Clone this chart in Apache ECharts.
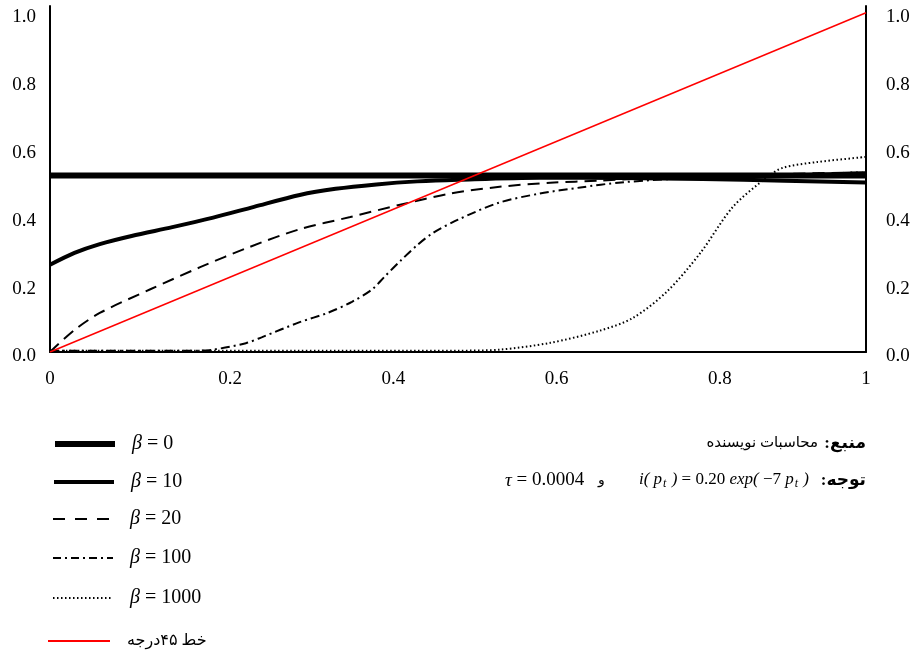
<!DOCTYPE html>
<html>
<head>
<meta charset="utf-8">
<script src="https://cdn.jsdelivr.net/npm/echarts@6/dist/echarts.min.js"></script>
<style>
  html, body { margin: 0; padding: 0; background: #fff; }
  #chart { width: 915px; height: 654px; }
</style>
</head>
<body>
<div id="chart"></div>
<script>
// axis ticks
const xTicks = [0, 0.2, 0.4, 0.6, 0.8, 1];
const yTicks = [0, 0.2, 0.4, 0.6, 0.8, 1.0];

// curves as [p, value]
const beta0 = [[0, 0.52], [1, 0.52]];
const beta10 = [
  [0, 0.257], [0.03, 0.292], [0.061, 0.318], [0.1, 0.342], [0.15, 0.368], [0.2, 0.396],
  [0.25, 0.428], [0.306, 0.463], [0.35, 0.481], [0.4, 0.494], [0.45, 0.503], [0.5, 0.508],
  [0.6, 0.514], [0.7, 0.513], [0.8, 0.51], [0.9, 0.505], [1, 0.5]
];
const beta20 = [
  [0, 0], [0.03, 0.065], [0.061, 0.115], [0.123, 0.185], [0.184, 0.25], [0.245, 0.31],
  [0.306, 0.362], [0.368, 0.398], [0.429, 0.434], [0.49, 0.467], [0.551, 0.487],
  [0.613, 0.499], [0.674, 0.505], [0.75, 0.515], [0.85, 0.522], [1, 0.53]
];
const beta100 = [
  [0, 0.004], [0.18, 0.004], [0.2, 0.007], [0.24, 0.026], [0.26, 0.044], [0.306, 0.088],
  [0.34, 0.115], [0.37, 0.148], [0.395, 0.185], [0.41, 0.222], [0.43, 0.27], [0.45, 0.315],
  [0.47, 0.352], [0.5, 0.39], [0.55, 0.44], [0.6, 0.467], [0.65, 0.485], [0.7, 0.5],
  [0.8, 0.515], [0.9, 0.523], [1, 0.53]
];
const beta1000 = [
  [0, 0.004], [0.3, 0.004], [0.5, 0.004], [0.551, 0.007], [0.613, 0.027], [0.674, 0.063],
  [0.714, 0.1], [0.756, 0.178], [0.797, 0.292], [0.837, 0.428], [0.879, 0.516],
  [0.898, 0.543], [0.94, 0.56], [1, 0.575]
];
const line45 = [[0, 0], [1, 1]];

const serif = "'Liberation Serif', 'Times New Roman', serif";
const fa = "'Liberation Serif', 'DejaVu Sans', serif";

function betaSeries(name, data, width, type) {
  return {
    name: name,
    type: 'line',
    data: data,
    symbol: 'none',
    smooth: 0.3,
    itemStyle: { color: '#000' },
    lineStyle: { color: '#000', width: width, type: type },
    z: 3
  };
}

function betaLegend(name, top, width, type) {
  return {
    data: [name],
    left: 52,
    top: top,
    padding: 0,
    selectedMode: false,
    itemWidth: 60,
    itemHeight: 20,
    itemStyle: { opacity: 0 },
    lineStyle: { width: width, type: type },
    formatter: function (n) {
      return '{b|β} = ' + n.split('=')[1].trim();
    },
    textStyle: {
      fontFamily: serif,
      fontSize: 20,
      color: '#000',
      padding: [0, 0, 0, 12],
      rich: { b: { fontFamily: serif, fontSize: 20, fontStyle: 'italic', color: '#000' } }
    }
  };
}

const chart = echarts.init(document.getElementById('chart'));

const yAxisBase = {
  type: 'value',
  min: 0,
  max: 1.02,
  interval: 0.2,
  axisLine: { show: true, lineStyle: { color: '#000', width: 2 } },
  axisTick: { show: false },
  splitLine: { show: false },
  axisLabel: {
    color: '#000',
    formatter: function (v) {
      const hit = yTicks.find(function (t) { return Math.abs(t - v) < 1e-9; });
      return hit === undefined ? '' : '{a|' + hit.toFixed(1) + '}';
    },
    rich: {
      a: { fontFamily: serif, fontSize: 19, color: '#000', padding: [9, 0, 0, 0] }
    }
  }
};

chart.setOption({
  animation: false,
  grid: { left: 50, right: 49, top: 6, bottom: 302, outerBoundsMode: 'none' },
  xAxis: {
    type: 'value',
    min: 0,
    max: 1,
    interval: 0.2,
    axisLine: { show: true, onZero: false, lineStyle: { color: '#000', width: 2 } },
    axisTick: { show: false },
    splitLine: { show: false },
    axisLabel: {
      margin: 18,
      color: '#000',
      fontFamily: serif,
      fontSize: 19,
      formatter: function (v) {
        const hit = xTicks.find(function (t) { return Math.abs(t - v) < 1e-9; });
        if (hit === undefined) return '';
        if (hit === 0 || hit === 1) return '{e|' + hit + '}';
        return '{m|' + hit.toFixed(1) + '}';
      },
      rich: {
        e: { fontFamily: serif, fontSize: 19, color: '#000' },
        m: { fontFamily: serif, fontSize: 19, color: '#000', padding: [0, 0, 0, 34] }
      }
    }
  },
  yAxis: [
    Object.assign({}, yAxisBase, { position: 'left', axisLabel: Object.assign({}, yAxisBase.axisLabel, { margin: 14 }) }),
    Object.assign({}, yAxisBase, { position: 'right', axisLabel: Object.assign({}, yAxisBase.axisLabel, { margin: 20 }) })
  ],
  legend: [
    betaLegend('β = 0', 434, 6, 'solid'),
    betaLegend('β = 10', 472, 4, 'solid'),
    betaLegend('β = 20', 509, 2, [12, 10]),
    betaLegend('β = 100', 548, 2, [8, 4, 2, 4]),
    betaLegend('β = 1000', 588, 2, [1.5, 2.5]),
    {
      data: ['خط ۴۵درجه'],
      left: 47,
      top: 633,
      padding: 0,
      selectedMode: false,
      itemWidth: 62,
      itemHeight: 20,
      itemStyle: { opacity: 0 },
      lineStyle: { width: 2 },
      textStyle: { fontFamily: fa, fontSize: 16, color: '#000', padding: [0, 0, 0, 12] }
    }
  ],
  series: [
    betaSeries('β = 0', beta0, 6, 'solid'),
    betaSeries('β = 10', beta10, 4, 'solid'),
    betaSeries('β = 20', beta20, 2, [12, 7]),
    betaSeries('β = 100', beta100, 2, [9, 4, 2, 4]),
    betaSeries('β = 1000', beta1000, 2, [1.5, 2.5]),
    {
      name: 'خط ۴۵درجه',
      type: 'line',
      data: line45,
      symbol: 'none',
      itemStyle: { color: '#ff0000' },
      lineStyle: { color: '#ff0000', width: 1.5 },
      z: 4
    }
  ],
  graphic: [
    { type: 'text', right: 49, top: 435, style: { text: 'منبع:\u200F', font: 'bold 17px ' + fa, fill: '#000' } },
    { type: 'text', right: 97, top: 436, style: { text: 'محاسبات نویسنده', font: '15px ' + fa, fill: '#000' } },
    { type: 'text', right: 49, top: 472, style: { text: 'توجه:\u200F', font: 'bold 17px ' + fa, fill: '#000' } },
    {
      type: 'text', right: 106, top: 471,
      style: {
        text: '{i|i( p}{s|t}{i| ) }{n|= 0.20 }{i|exp( }{n|−7 }{i|p}{s|t}{i| )}',
        fill: '#000',
        rich: {
          i: { fontFamily: serif, fontSize: 17, fontStyle: 'italic', fill: '#000' },
          n: { fontFamily: serif, fontSize: 17, fill: '#000' },
          s: { fontFamily: serif, fontSize: 12, fontStyle: 'italic', fill: '#000', padding: [8, 1, 0, 1] }
        }
      }
    },
    { type: 'text', left: 598, top: 473, style: { text: 'و', font: '14px ' + fa, fill: '#000' } },
    {
      type: 'text', left: 505, top: 471,
      style: {
        text: '{i|τ} = 0.0004',
        font: '19px ' + serif,
        fill: '#000',
        rich: { i: { fontFamily: serif, fontSize: 19, fontStyle: 'italic', fill: '#000' } }
      }
    }
  ]
});
</script>
</body>
</html>
